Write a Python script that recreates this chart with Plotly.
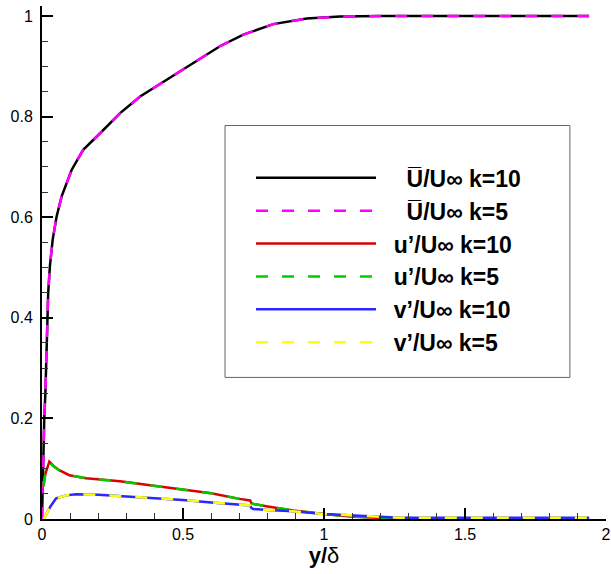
import plotly.graph_objects as go

# ---- data ----
ubar_x = [0.0, 0.004, 0.008, 0.012, 0.016, 0.022, 0.028, 0.038, 0.052, 0.070, 0.105, 0.146,
          0.206, 0.277, 0.348, 0.43, 0.50, 0.549, 0.631, 0.714, 0.82, 0.939, 1.057, 1.2,
          1.4, 1.6, 1.8, 1.94]
ubar_k10 = [0.0, 0.12, 0.2, 0.25, 0.33, 0.45, 0.503, 0.556, 0.602, 0.642, 0.694, 0.734,
            0.767, 0.807, 0.840, 0.869, 0.893, 0.910, 0.940, 0.963, 0.984, 0.995, 0.999, 1.0,
            1.0, 1.0, 1.0, 1.0]
ubar_k5 = [0.0, 0.12, 0.2, 0.25, 0.33, 0.45, 0.503, 0.556, 0.602, 0.642, 0.694, 0.734,
           0.767, 0.807, 0.840, 0.869, 0.893, 0.910, 0.940, 0.963, 0.984, 0.995, 0.999, 1.0,
           1.0, 1.0, 1.0, 1.0]

urms_x = [0.005, 0.012, 0.026, 0.04, 0.061, 0.097, 0.156, 0.206, 0.277, 0.383, 0.5, 0.6,
          0.70, 0.738, 0.742, 0.749, 0.8, 0.891, 1.0, 1.092, 1.2, 1.4, 1.6, 1.8, 1.94]
urms_k10 = [0.065, 0.09, 0.114, 0.106, 0.097, 0.087, 0.081, 0.079, 0.075, 0.067, 0.059, 0.051,
            0.040, 0.037, 0.032, 0.030, 0.025, 0.017, 0.010, 0.005, 0.002, 0.001, 0.001, 0.001, 0.001]
urms_k5 = [0.065, 0.09, 0.112, 0.105, 0.097, 0.087, 0.081, 0.079, 0.075, 0.067, 0.059, 0.051,
           0.040, 0.037, 0.032, 0.030, 0.025, 0.017, 0.010, 0.005, 0.002, 0.001, 0.001, 0.001, 0.001]

vrms_x = [0.005, 0.011, 0.03, 0.05, 0.085, 0.12, 0.2, 0.3, 0.383, 0.5, 0.6, 0.7, 0.738,
          0.742, 0.749, 0.8, 0.891, 1.0, 1.092, 1.2, 1.27, 1.4, 1.6, 1.8, 1.94]
vrms_k10 = [0.0, 0.005, 0.025, 0.041, 0.047, 0.049, 0.048, 0.045, 0.042, 0.038, 0.033, 0.029,
            0.027, 0.022, 0.020, 0.018, 0.0155, 0.010, 0.007, 0.004, 0.0024, 0.0024, 0.0024,
            0.0024, 0.0024]
vrms_k5 = [0.0, 0.005, 0.025, 0.041, 0.047, 0.049, 0.048, 0.045, 0.042, 0.038, 0.033, 0.029,
           0.027, 0.022, 0.020, 0.018, 0.0155, 0.010, 0.007, 0.004, 0.0024, 0.0024, 0.0024,
           0.0024, 0.0024]

NB = "\u00a0"
names = [NB * 4 + "U\u0305/U\u221e k=10", NB * 4 + "U\u0305/U\u221e k=5",
         NB * 2 + "u\u2019/U\u221e k=10", NB * 2 + "u\u2019/U\u221e k=5",
         NB * 2 + "v\u2019/U\u221e k=10", NB * 2 + "v\u2019/U\u221e k=5"]

FONT = "Liberation Sans, Arial, Helvetica, sans-serif"
DASH = "12px,14px"

series = [
    (ubar_x, ubar_k10, names[0], "#000000", "solid"),
    (ubar_x, ubar_k5, names[1], "#ff00ff", DASH),
    (urms_x, urms_k10, names[2], "#dd0000", "solid"),
    (urms_x, urms_k5, names[3], "#00cc00", DASH),
    (vrms_x, vrms_k10, names[4], "#2828ff", "solid"),
    (vrms_x, vrms_k5, names[5], "#ffff00", DASH),
]

fig = go.Figure()
for i, (xs, ys, nm, col, dash) in enumerate(series):
    fig.add_trace(go.Scatter(x=xs, y=ys, mode="lines", name=nm, legendgroup=f"g{i}",
                             line=dict(color=col, width=2.5, dash=dash)))

fig.update_layout(
    width=611, height=574,
    margin=dict(l=42, r=5, t=6, b=55),
    paper_bgcolor="white", plot_bgcolor="white",
    font=dict(family=FONT, size=16, color="black"),
    showlegend=True,
    legend=dict(x=0.3706, y=0.707, xanchor="left", yanchor="top",
                bgcolor="rgba(0,0,0,0)", borderwidth=0,
                font=dict(family=FONT, size=23, color="black", weight="bold"),
                itemwidth=120, tracegroupgap=3.5, traceorder="normal"),
    shapes=[dict(type="rect", xref="paper", yref="paper",
                 x0=0.3245, x1=0.936, y0=0.276, y1=0.767,
                 line=dict(color="#666666", width=1), fillcolor="white", layer="below")],
)

fig.update_xaxes(range=[0, 2], dtick=0.5, tick0=0, showline=True, linecolor="black",
                 linewidth=2, ticks="inside", ticklen=11, tickwidth=2, tickcolor="black",
                 showgrid=False, zeroline=False, automargin=False, ticklabeloverflow="allow",
                 minor=dict(dtick=0.1, ticks="inside", ticklen=6, tickwidth=1,
                            tickcolor="#333333", showgrid=False),
                 tickfont=dict(size=16),
                 title=dict(text="<b>y/</b>\u03b4", font=dict(size=22), standoff=0))
fig.update_yaxes(range=[0, 1.02], dtick=0.2, tick0=0, showline=True, linecolor="black",
                 linewidth=2, ticks="inside", ticklen=11, tickwidth=2, tickcolor="black",
                 showgrid=False, zeroline=False, automargin=False, ticklabeloverflow="allow",
                 minor=dict(dtick=0.05, ticks="inside", ticklen=6, tickwidth=1,
                            tickcolor="#333333", showgrid=False),
                 tickfont=dict(size=16), ticklabelstandoff=4)

fig.write_html("out.html", config={"displayModeBar": False},
               post_script="document.body.style.margin='0';document.body.style.padding='0';")
